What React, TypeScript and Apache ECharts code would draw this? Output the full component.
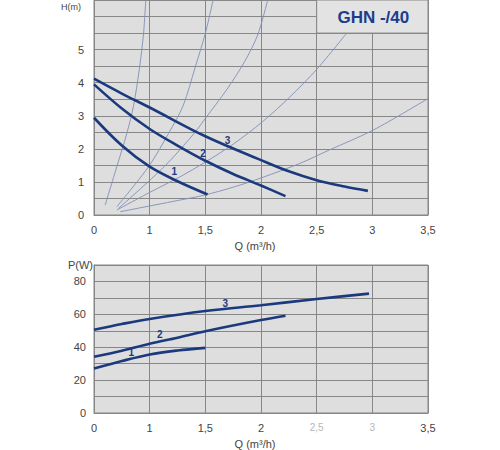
import React, { useEffect, useRef } from "react";
import * as echarts from "echarts";

// Equally spaced ticks on the Q axis, labelled as in the original (0, 1, 1,5 ... 3,5)
const xTickLabels = ["0", "1", "1,5", "2", "2,5", "3", "3,5"];
const xTickQ = [0, 1, 1.5, 2, 2.5, 3, 3.5];

// Head curves H(m) vs Q (m³/h), speeds 1..3
const head1Q = [0, 0.5, 1, 1.25, 1.52];
const head1H = [2.94, 2.1, 1.46, 1.02, 0.62];
const head2Q = [0, 0.5, 1, 1.25, 1.5, 1.75, 2, 2.22];
const head2H = [3.95, 3.22, 2.6, 2.1, 1.64, 1.24, 0.89, 0.57];
const head3Q = [0, 0.5, 1, 1.5, 2, 2.25, 2.5, 2.75, 2.96];
const head3H = [4.12, 3.67, 3.25, 2.38, 1.66, 1.32, 1.05, 0.86, 0.73];

// System (resistance) curves
const sysAQ = [0.2, 0.41, 0.59, 0.71, 0.82, 0.89, 0.93];
const sysAH = [0.3, 1.46, 2.47, 3.3, 4.48, 5.49, 6.5];
const sysBQ = [0.41, 0.98, 1.17, 1.3, 1.41, 1.5, 1.57];
const sysBH = [0.25, 1.46, 2.47, 3.3, 4.48, 5.49, 6.5];
const sysCQ = [0.44, 1.13, 1.4, 1.5, 1.69, 1.85, 1.97, 2.06];
const sysCH = [0.2, 1.46, 2.47, 2.92, 3.78, 4.62, 5.44, 6.5];
const sysDQ = [0.41, 1.01, 1.27, 1.5, 1.75, 2.01, 2.26, 2.51, 2.77];
const sysDH = [0.15, 0.7, 1.15, 1.6, 2.14, 2.81, 3.57, 4.44, 5.5];
const sysEQ = [0.47, 1.27, 1.49, 1.75, 2.0, 2.35, 2.61, 3.01, 3.5];
const sysEH = [0.1, 0.45, 0.6, 0.84, 1.12, 1.56, 1.96, 2.57, 3.52];

// Power curves P(W) vs Q
const power1Q = [0, 0.5, 1, 1.25, 1.5];
const power1P = [27, 31.6, 35.6, 38.0, 39.6];
const power2Q = [0, 0.5, 1, 1.25, 1.5, 2, 2.22];
const power2P = [34.2, 37.9, 42.1, 45.8, 49.7, 56.5, 59.1];
const power3Q = [0, 0.5, 1, 1.5, 2, 2.5, 2.97];
const power3P = [50.6, 54.1, 57.2, 62.0, 65.5, 69.3, 72.6];

// Curve number annotations [label, Q, value]
const headLabels: [string, number, number][] = [
  ["1", 1.22, 1.32],
  ["2", 1.48, 1.86],
  ["3", 1.7, 2.26],
];
const powerLabels: [string, number, number][] = [
  ["1", 0.67, 36.8],
  ["2", 1.09, 48.0],
  ["3", 1.68, 66.8],
];

const titleText = "GHN -/40";
const titleBoxQ = [2.5, 3.5];
const titleBoxH = [5.5, 6.5];

const FONT = "Liberation Sans, Arial, sans-serif";
const NAVY = "#1b3a7e";
const THIN = "#7f8fb5";
const GRIDC = "#878787";
const BG = "#dedede";

function qToPos(q: number): number {
  for (let i = 0; i < xTickQ.length - 1; i++) {
    if (q <= xTickQ[i + 1]) {
      return i + (q - xTickQ[i]) / (xTickQ[i + 1] - xTickQ[i]);
    }
  }
  return xTickQ.length - 1;
}

function pts(qs: number[], vs: number[]) {
  return qs.map((q, i) => [qToPos(q), vs[i]]);
}

function mainSeries(name: string, qs: number[], vs: number[], idx: number, label: [string, number, number]) {
  return {
    name,
    type: "line",
    xAxisIndex: idx,
    yAxisIndex: idx,
    data: pts(qs, vs),
    smooth: 0.35,
    symbol: "none",
    lineStyle: { color: NAVY, width: 2.6 },
    z: 5,
    markPoint: {
      symbol: "circle",
      symbolSize: 1,
      itemStyle: { color: "rgba(0,0,0,0)" },
      label: {
        show: true,
        position: "inside",
        formatter: label[0],
        color: NAVY,
        fontWeight: "bold",
        fontSize: 10,
        fontFamily: FONT,
      },
      data: [{ coord: [qToPos(label[1]), label[2]] }],
    },
  };
}

function thinSeries(name: string, qs: number[], vs: number[]) {
  return {
    name,
    type: "line",
    xAxisIndex: 0,
    yAxisIndex: 0,
    data: pts(qs, vs),
    smooth: 0.3,
    symbol: "none",
    lineStyle: { color: THIN, width: 0.9 },
    z: 3,
  };
}

function xAxisDef(gridIndex: number) {
  return {
    gridIndex,
    type: "value",
    min: 0,
    max: xTickLabels.length - 1,
    interval: 1,
    axisLine: { show: true, lineStyle: { color: GRIDC, width: 1 } },
    axisTick: { show: false },
    splitLine: { show: true, lineStyle: { color: GRIDC, width: 1 } },
    axisLabel: {
      margin: 9,
      color: "#444",
      fontSize: 11,
      fontFamily: FONT,
      formatter: (v: number) => {
        const s = xTickLabels[Math.round(v)] ?? "";
        if (gridIndex === 1 && (v === 4 || v === 5)) return `{f|${s}}`;
        return s;
      },
      rich: { f: { color: "#b5b5b5", fontSize: 10, fontFamily: FONT } },
    },
    name: "Q (m³/h)",
    nameLocation: "middle",
    nameGap: 25,
    nameTextStyle: { color: "#444", fontSize: 11, fontFamily: FONT, padding: [0, 12, 0, 0] },
  };
}

export default function App() {
  const ref = useRef<HTMLDivElement>(null);

  useEffect(() => {
    if (!ref.current) return;
    const chart = echarts.init(ref.current, undefined, { renderer: "svg" });
    const option = {
      animation: false,
      backgroundColor: "#ffffff",
      grid: [
        { left: 94, right: 72, top: 0, height: 215, show: true, backgroundColor: BG, borderColor: GRIDC, borderWidth: 1 },
        { left: 94, right: 72, top: 265, height: 149, show: true, backgroundColor: BG, borderColor: GRIDC, borderWidth: 1 },
      ],
      xAxis: [xAxisDef(0), xAxisDef(1)],
      yAxis: [
        {
          gridIndex: 0,
          type: "value",
          min: 0,
          max: 6.5,
          interval: 0.5,
          axisLine: { show: true, lineStyle: { color: GRIDC } },
          axisTick: { show: false },
          splitLine: { show: true, lineStyle: { color: GRIDC, width: 1 } },
          axisLabel: {
            margin: 10,
            color: "#444",
            fontSize: 11,
            fontFamily: FONT,
            formatter: (v: number) => (Number.isInteger(v) && v <= 5 ? String(v) : ""),
          },
          name: "H(m)",
          nameLocation: "end",
          nameGap: -2,
          nameTextStyle: { color: "#444", fontSize: 9, fontFamily: FONT, align: "right", verticalAlign: "top", padding: [0, 13, 0, 0] },
        },
        {
          gridIndex: 1,
          type: "value",
          min: 0,
          max: 90,
          interval: 10,
          axisLine: { show: true, lineStyle: { color: GRIDC } },
          axisTick: { show: false },
          splitLine: { show: true, lineStyle: { color: GRIDC, width: 1 } },
          axisLabel: {
            margin: 8,
            color: "#444",
            fontSize: 11,
            fontFamily: FONT,
            formatter: (v: number) => (v % 20 === 0 && v <= 80 ? String(v) : ""),
          },
          name: "P(W)",
          nameLocation: "end",
          nameGap: 0,
          nameTextStyle: { color: "#444", fontSize: 11, fontFamily: FONT, align: "right", verticalAlign: "middle", padding: [0, 1, 0, 0] },
        },
      ],
      series: [
        thinSeries("sysA", sysAQ, sysAH),
        thinSeries("sysB", sysBQ, sysBH),
        thinSeries("sysC", sysCQ, sysCH),
        thinSeries("sysD", sysDQ, sysDH),
        {
          ...thinSeries("sysE", sysEQ, sysEH),
          markArea: {
            silent: true,
            itemStyle: { color: "#e3e3e3", borderColor: GRIDC, borderWidth: 1 },
            label: {
              show: true,
              position: "inside",
              formatter: titleText,
              color: "#1c3d8c",
              fontSize: 17,
              fontWeight: "bold",
              fontFamily: FONT,
              offset: [1, 1],
            },
            data: [[
              { coord: [qToPos(titleBoxQ[0]), titleBoxH[0]] },
              { coord: [qToPos(titleBoxQ[1]), titleBoxH[1]] },
            ]],
          },
        },
        mainSeries("head1", head1Q, head1H, 0, headLabels[0]),
        mainSeries("head2", head2Q, head2H, 0, headLabels[1]),
        mainSeries("head3", head3Q, head3H, 0, headLabels[2]),
        mainSeries("power1", power1Q, power1P, 1, powerLabels[0]),
        mainSeries("power2", power2Q, power2P, 1, powerLabels[1]),
        mainSeries("power3", power3Q, power3P, 1, powerLabels[2]),
      ],
    };
    chart.setOption(option as any);
    return () => chart.dispose();
  }, []);

  return (
    <div
      ref={ref}
      style={{ position: "absolute", left: 0, top: 0, width: 500, height: 450, background: "#fff" }}
    />
  );
}
